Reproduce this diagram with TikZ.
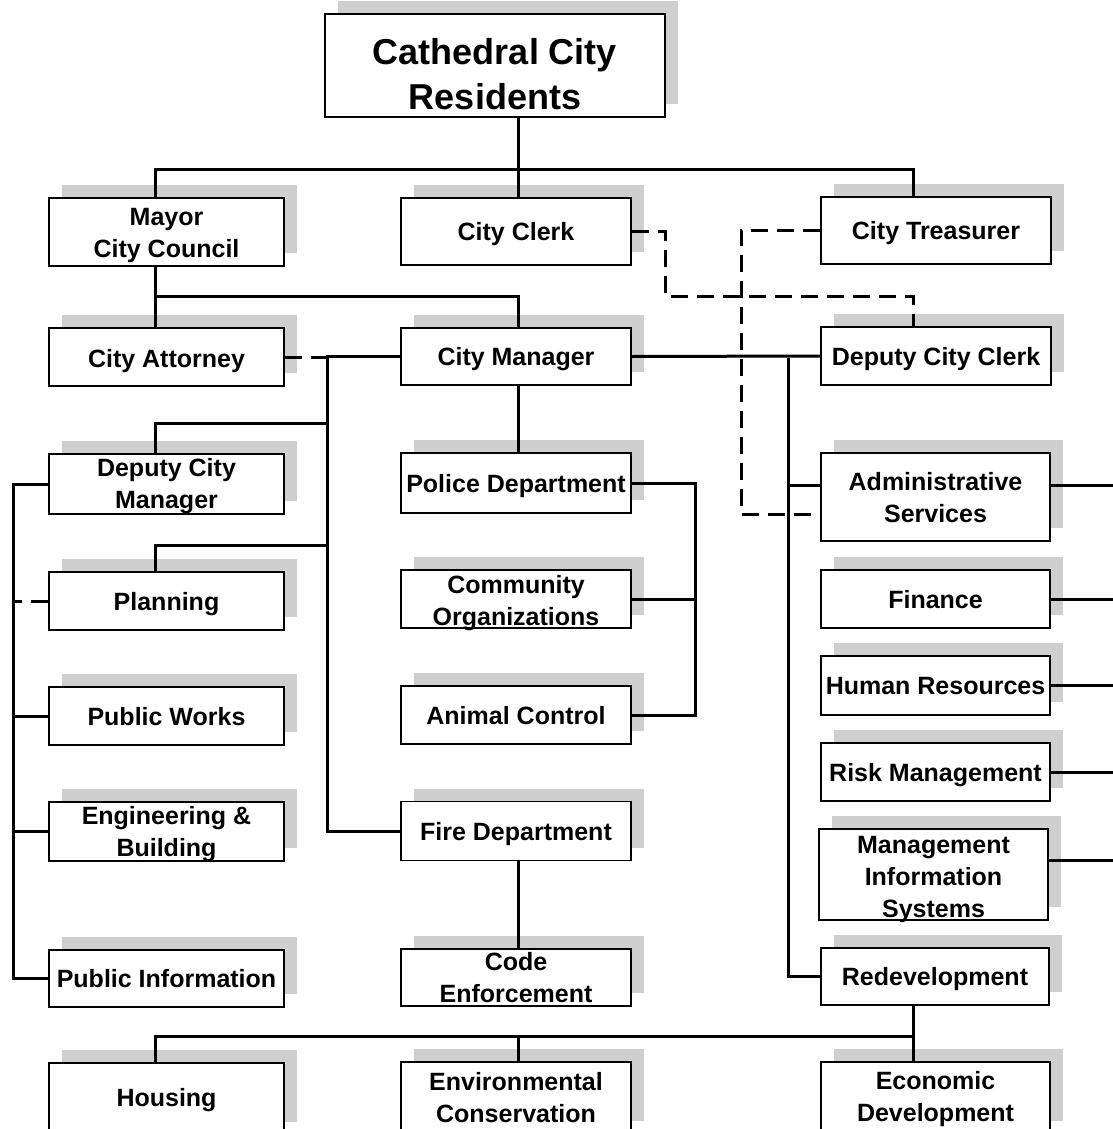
\documentclass[tikz,border=0pt]{standalone}
\usepackage{fontspec}
\setmainfont{Liberation Sans}
\usetikzlibrary{shadows}
% #1 = vertical raise of the bottom line's baseline, #2 = lines
\newcommand{\tx}[2]{\raisebox{#1}[0pt][0pt]{\begin{tabular}[b]{@{}c@{}}#2\end{tabular}}}
\tikzset{
  box/.style={draw, line width=1.8pt, fill=white, inner sep=0pt,
    font=\fontsize{25}{32}\selectfont\bfseries,
    drop shadow={shadow xshift=13pt, shadow yshift=13pt, fill=gray!38, opacity=1}},
  conn/.style={line width=3pt},
  dconn/.style={line width=3pt, dash pattern=on 17pt off 9pt}
}
\begin{document}
\begin{tikzpicture}[x=1pt,y=-1pt]
\useasboundingbox (0,0) rectangle (1112,1129);
\coordinate (edge) at (1116,0);
% nodes
\node[box, minimum width=340pt, minimum height=103pt, font=\fontsize{36}{45}\selectfont\bfseries] (res) at (495,65.5) {\tx{-44pt}{Cathedral City\\Residents}};
\node[box, minimum width=235pt, minimum height=68pt] (mayor) at (166.5,232) {\tx{-25pt}{Mayor\\City Council}};
\node[box, minimum width=230pt, minimum height=67pt] (clerk) at (516,231.5) {\tx{-9pt}{City Clerk}};
\node[box, minimum width=230pt, minimum height=67pt] (treas) at (936,230.5) {\tx{-9pt}{City Treasurer}};
\node[box, minimum width=235pt, minimum height=58pt] (atty) at (166.5,357) {\tx{-10pt}{City Attorney}};
\node[box, minimum width=230pt, minimum height=57pt] (mgr) at (516,356.5) {\tx{-9pt}{City Manager}};
\node[box, minimum width=230pt, minimum height=58pt] (dclerk) at (936,356) {\tx{-9pt}{Deputy City Clerk}};
\node[box, minimum width=235pt, minimum height=60pt] (dcm) at (166.5,484) {\tx{-24pt}{Deputy City\\Manager}};
\node[box, minimum width=230pt, minimum height=60pt] (police) at (516,483) {\tx{-9pt}{Police Department}};
\node[box, minimum width=229pt, minimum height=88pt] (admin) at (935.5,497) {\tx{-25pt}{Administrative\\Services}};
\node[box, minimum width=235pt, minimum height=58pt] (planning) at (166.5,601) {\tx{-9pt}{Planning}};
\node[box, minimum width=230pt, minimum height=58pt] (commorg) at (516,599) {\tx{-26pt}{Community\\Organizations}};
\node[box, minimum width=229pt, minimum height=58pt] (finance) at (935.5,599) {\tx{-9pt}{Finance}};
\node[box, minimum width=229pt, minimum height=59pt] (hr) at (935.5,685.5) {\tx{-9pt}{Human Resources}};
\node[box, minimum width=235pt, minimum height=58pt] (pw) at (166.5,716) {\tx{-9pt}{Public Works}};
\node[box, minimum width=230pt, minimum height=58pt] (animal) at (516,715) {\tx{-9pt}{Animal Control}};
\node[box, minimum width=229pt, minimum height=58pt] (risk) at (935.5,772) {\tx{-9pt}{Risk Management}};
\node[box, minimum width=235pt, minimum height=59pt] (eng) at (166.5,831.5) {\tx{-25pt}{Engineering \&\\Building}};
\node[box, minimum width=230pt, minimum height=59pt] (fire) at (516,831) {\tx{-9pt}{Fire Department}};
\node[box, minimum width=229pt, minimum height=91pt] (mis) at (933.5,874.5) {\tx{-43pt}{Management\\Information\\Systems}};
\node[box, minimum width=235pt, minimum height=57pt] (pubinfo) at (166.5,978.5) {\tx{-9pt}{Public Information}};
\node[box, minimum width=230pt, minimum height=57pt] (code) at (516,977.5) {\tx{-25pt}{Code\\Enforcement}};
\node[box, minimum width=228pt, minimum height=57pt] (redev) at (935,976.5) {\tx{-9pt}{Redevelopment}};
\node[box, minimum width=235pt, minimum height=72pt] (housing) at (166.5,1099) {\tx{-7pt}{Housing}};
\node[box, minimum width=230pt, minimum height=72pt] (envcons) at (516,1098) {\tx{-24pt}{Environmental\\Conservation}};
\node[box, minimum width=229pt, minimum height=72pt] (econ) at (935.5,1098) {\tx{-23pt}{Economic\\Development}};
% top tree
\draw[conn] (res.south -| 518,0) -- (518,169);
\draw[conn] (mayor.north -| 155,0) |- (913,169) -- (treas.north -| 913,0);
\draw[conn] (518,169) -- (clerk.north -| 518,0);
\draw[conn] (mayor.south -| 155,0) -- (atty.north -| 155,0);
\draw[conn] (155,296) -| (mgr.north -| 518,0);
% city manager left branch
\draw[conn] (mgr.west) -| (fire.west -| 327,0) -- (fire.west);
\draw[dconn] (atty.east) -- (atty.east -| 327,0);
\draw[conn] (327,423) -| (dcm.north -| 155,0);
\draw[conn] (327,545) -| (planning.north -| 155,0);
% centre column
\draw[conn] (mgr.south -| 518,0) -- (police.north -| 518,0);
\draw[conn] (police.east) -| (animal.east -| 695,0) -- (animal.east);
\draw[conn] (commorg.east) -- (commorg.east -| 695,0);
\draw[conn] (fire.south -| 518,0) -- (code.north -| 518,0);
% right branch
\draw[conn] (mgr.east) -- (dclerk.west);
\draw[conn] (788,358) |- (redev.west);
\draw[conn] (788,485) -- (admin.west |- 0,485);
% left column
\draw[conn] (dcm.west) -| (pubinfo.west -| 13,0) -- (pubinfo.west);
\draw[dconn] (planning.west) -- (planning.west -| 13,0);
\draw[conn] (pw.west) -- (pw.west -| 13,0);
\draw[conn] (eng.west) -- (eng.west -| 13,0);
% right edge stubs
\draw[conn] (admin.east |- 0,485) -- (edge |- 0,485);
\draw[conn] (finance.east) -- (finance.east -| edge);
\draw[conn] (hr.east) -- (hr.east -| edge);
\draw[conn] (risk.east) -- (risk.east -| edge);
\draw[conn] (mis.east |- 0,860) -- (edge |- 0,860);
% redevelopment tree
\draw[conn] (redev.south -| 913,0) -- (econ.north -| 913,0);
\draw[conn] (913,1036) -| (housing.north -| 155,0);
\draw[conn] (518,1036) -- (envcons.north -| 518,0);
% dashed relations
\draw[dconn] (clerk.east) -| (665,296) -| (dclerk.north -| 913,0);
\draw[dconn] (treas.west) -| (741,514) -- (admin.west |- 0,514);
\end{tikzpicture}
\end{document}
